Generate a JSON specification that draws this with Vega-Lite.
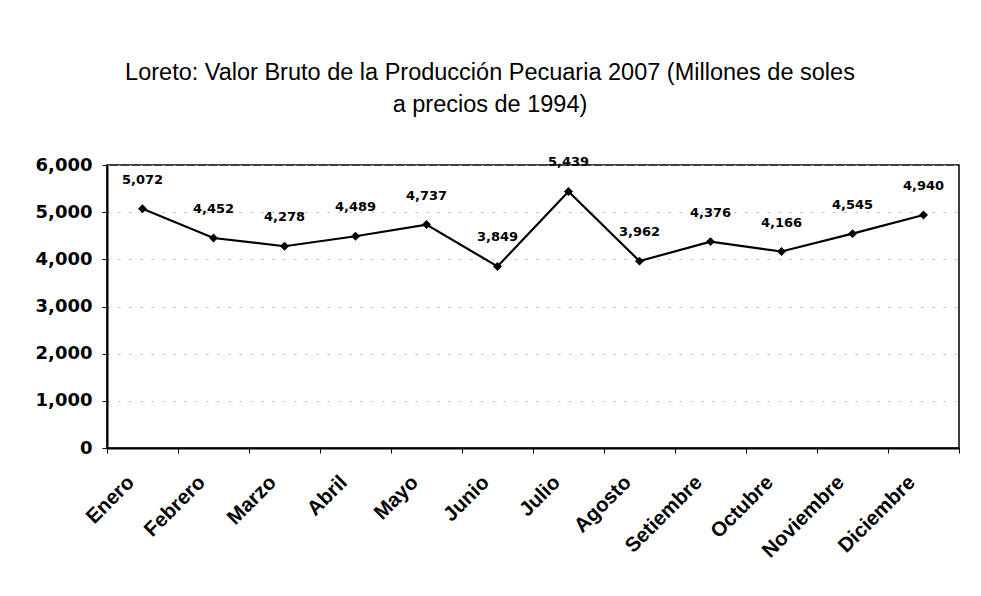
{
  "$schema": "https://vega.github.io/schema/vega-lite/v6.json",
  "width": 852,
  "height": 283,
  "autosize": {"type": "none"},
  "padding": {"left": 107, "top": 165, "right": 22, "bottom": 148},
  "background": "white",
  "title": {
    "text": ["Loreto: Valor Bruto de la Producción Pecuaria 2007 (Millones de soles", "a precios de 1994)"],
    "font": "Liberation Sans",
    "fontSize": 23.5,
    "fontWeight": "normal",
    "color": "black",
    "lineHeight": 32,
    "anchor": "middle",
    "frame": "group",
    "dx": -43,
    "offset": 40
  },
  "data": {
    "values": [
      {"mes": "Enero", "valor": 5072},
      {"mes": "Febrero", "valor": 4452},
      {"mes": "Marzo", "valor": 4278},
      {"mes": "Abril", "valor": 4489},
      {"mes": "Mayo", "valor": 4737},
      {"mes": "Junio", "valor": 3849},
      {"mes": "Julio", "valor": 5439},
      {"mes": "Agosto", "valor": 3962},
      {"mes": "Setiembre", "valor": 4376},
      {"mes": "Octubre", "valor": 4166},
      {"mes": "Noviembre", "valor": 4545},
      {"mes": "Diciembre", "valor": 4940}
    ]
  },
  "encoding": {
    "x": {
      "field": "mes",
      "type": "nominal",
      "sort": null,
      "scale": {"type": "band", "paddingInner": 0, "paddingOuter": 0},
      "axis": {
        "title": null,
        "labelAngle": -45,
        "labelAlign": "right",
        "labelBaseline": "middle",
        "labelFont": "Liberation Sans",
        "labelFontSize": 20.5,
        "labelFontWeight": "bold",
        "labelColor": "black",
        "labelPadding": 26,
        "labelOffset": -12,
        "tickBand": "extent",
        "tickSize": 5,
        "tickColor": "black",
        "domainColor": "black",
        "domainWidth": 2,
        "grid": false
      }
    },
    "y": {
      "field": "valor",
      "type": "quantitative",
      "scale": {"domain": [0, 6000], "nice": false},
      "axis": {
        "title": null,
        "values": [0, 1000, 2000, 3000, 4000, 5000, 6000],
        "format": ",.0f",
        "labelFont": "DejaVu Sans",
        "labelFontSize": 18,
        "labelFontWeight": "bold",
        "labelColor": "black",
        "labelPadding": 10,
        "tickSize": 5,
        "tickColor": "black",
        "domainColor": "black",
        "domainWidth": 2,
        "grid": true,
        "gridColor": "#b0b0b0",
        "gridDash": [2, 9],
        "gridWidth": 1
      }
    }
  },
  "layer": [
    {
      "mark": {
        "type": "line",
        "color": "black",
        "strokeWidth": 2.2,
        "point": {"shape": "diamond", "filled": true, "size": 80, "color": "black"}
      }
    },
    {
      "mark": {
        "type": "text",
        "dy": -29,
        "font": "DejaVu Sans",
        "fontSize": 13,
        "fontWeight": "bold",
        "color": "black"
      },
      "encoding": {
        "text": {"field": "valor", "type": "quantitative", "format": ",.0f"}
      }
    }
  ],
  "config": {
    "view": {"stroke": "black", "strokeWidth": 1.5}
  }
}
